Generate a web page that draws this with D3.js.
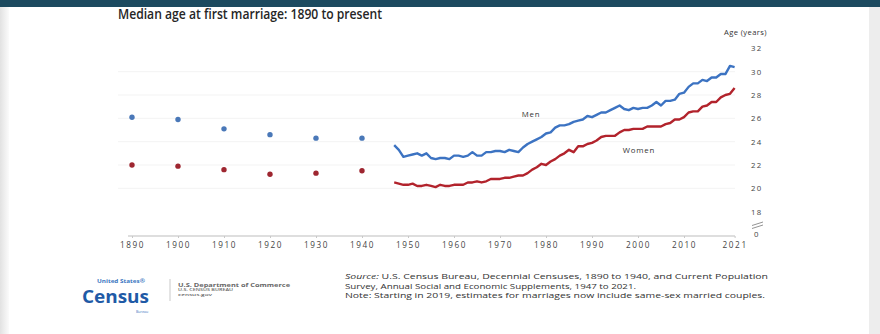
<!DOCTYPE html>
<html>
<head>
<meta charset="utf-8">
<script src="https://cdn.jsdelivr.net/npm/d3@7"></script>
<style>
  html, body { margin: 0; padding: 0; background: #fff; }
  svg { display: block; }
  text { font-family: "Open Sans", "DejaVu Sans", sans-serif; }
</style>
</head>
<body>
<svg id="chart" width="880" height="334"></svg>
<script>
// Decennial census estimates, 1890-1940
const censusYears = [1890, 1900, 1910, 1920, 1930, 1940];
const censusMen   = [26.1, 25.9, 25.1, 24.6, 24.3, 24.3];
const censusWomen = [22.0, 21.9, 21.6, 21.2, 21.3, 21.5];

// Current Population Survey annual estimates, 1947-2021
const cpsYears = d3.range(1947, 2022);
const cpsMen = [
  23.7, 23.3, 22.7, 22.8, 22.9, 23.0, 22.8, 23.0, 22.6, 22.5,
  22.6, 22.6, 22.5, 22.8, 22.8, 22.7, 22.8, 23.1, 22.8, 22.8,
  23.1, 23.1, 23.2, 23.2, 23.1, 23.3, 23.2, 23.1, 23.5, 23.8,
  24.0, 24.2, 24.4, 24.7, 24.8, 25.2, 25.4, 25.4, 25.5, 25.7,
  25.8, 25.9, 26.2, 26.1, 26.3, 26.5, 26.5, 26.7, 26.9, 27.1,
  26.8, 26.7, 26.9, 26.8, 26.9, 26.9, 27.1, 27.4, 27.1, 27.5,
  27.5, 27.6, 28.1, 28.2, 28.7, 29.0, 29.0, 29.3, 29.2, 29.5,
  29.5, 29.8, 29.8, 30.5, 30.4
];
const cpsWomen = [
  20.5, 20.4, 20.3, 20.3, 20.4, 20.2, 20.2, 20.3, 20.2, 20.1,
  20.3, 20.2, 20.2, 20.3, 20.3, 20.3, 20.5, 20.5, 20.6, 20.5,
  20.6, 20.8, 20.8, 20.8, 20.9, 20.9, 21.0, 21.1, 21.1, 21.3,
  21.6, 21.8, 22.1, 22.0, 22.3, 22.5, 22.8, 23.0, 23.3, 23.1,
  23.6, 23.6, 23.8, 23.9, 24.1, 24.4, 24.5, 24.5, 24.5, 24.8,
  25.0, 25.0, 25.1, 25.1, 25.1, 25.3, 25.3, 25.3, 25.3, 25.5,
  25.6, 25.9, 25.9, 26.1, 26.5, 26.6, 26.6, 27.0, 27.1, 27.4,
  27.4, 27.8, 28.0, 28.1, 28.6
];

const xTicks = [1890, 1900, 1910, 1920, 1930, 1940, 1950, 1960, 1970, 1980, 1990, 2000, 2010, 2021];
const yTicks = [18, 20, 22, 24, 26, 28, 30, 32];

const title = "Median age at first marriage: 1890 to present";
const sourceLines = [
  ["Source:", " U.S. Census Bureau, Decennial Censuses, 1890 to 1940, and Current Population"],
  ["", "Survey, Annual Social and Economic Supplements, 1947 to 2021."],
  ["", "Note: Starting in 2019, estimates for marriages now include same-sex married couples."]
];

const MEN = "#3c73c2";
const WOMEN = "#b2232c";

const svg = d3.select("#chart");

// page frame: dark header band and soft grey side margins
const edge = svg.append("defs").append("linearGradient").attr("id", "edgeL");
edge.append("stop").attr("offset", "0%").attr("stop-color", "#e2e2e2");
edge.append("stop").attr("offset", "100%").attr("stop-color", "#fbfbfb");
svg.append("rect").attr("x", 0).attr("y", 0).attr("width", 880).attr("height", 334).attr("fill", "#fff");
svg.append("rect").attr("x", 0).attr("y", 0).attr("width", 9).attr("height", 334).attr("fill", "url(#edgeL)");
svg.append("rect").attr("x", 869).attr("y", 0).attr("width", 11).attr("height", 334).attr("fill", "#ededed");
svg.append("rect").attr("x", 0).attr("y", 0).attr("width", 880).attr("height", 7).attr("fill", "#1c4a5f");

svg.append("text")
  .attr("x", 118).attr("y", 19)
  .attr("font-size", 14.5).attr("font-weight", 600).attr("fill", "#262626")
  .attr("textLength", 264).attr("lengthAdjust", "spacingAndGlyphs")
  .text(title);

const x = d3.scaleLinear().domain([1890, 2021]).range([132, 734.6]);
const y = d3.scaleLinear().domain([18, 32]).range([211.6, 48.4]);

// faint horizontal guides
svg.append("g").selectAll("line").data(yTicks.filter(v => v >= 20 && v <= 30)).join("line")
  .attr("x1", 118).attr("x2", 735)
  .attr("y1", d => y(d)).attr("y2", d => y(d))
  .attr("stroke", "#f3f3f3").attr("stroke-width", 1);

// x axis
const xAxis = svg.append("g").attr("transform", "translate(0,236)")
  .call(d3.axisBottom(x).tickValues(xTicks).tickFormat(d3.format("d")).tickSize(2).tickPadding(4));
xAxis.select(".domain").attr("stroke", "#bdbdbd").attr("d", "M128,0H735");
xAxis.selectAll(".tick line").attr("stroke", "#c8c8c8");
xAxis.selectAll(".tick text")
  .attr("font-family", "\"Open Sans\", sans-serif")
  .attr("font-size", 8.2).attr("fill", "#444").attr("letter-spacing", 1.6);

// y axis on the right, labels only
const yAxis = svg.append("g").attr("transform", "translate(751,0)")
  .call(d3.axisRight(y).tickValues(yTicks).tickSize(0).tickPadding(0));
yAxis.select(".domain").remove();
yAxis.selectAll(".tick text")
  .attr("font-family", "\"Open Sans\", sans-serif")
  .attr("font-size", 7.8).attr("fill", "#444").attr("letter-spacing", 1.2);

svg.append("text").attr("x", 754).attr("y", 237)
  .attr("font-size", 7.8).attr("fill", "#444").text("0");

// axis break marks
const brk = svg.append("g").attr("stroke", "#777").attr("stroke-width", 0.8);
brk.append("line").attr("x1", 752).attr("y1", 225.5).attr("x2", 763).attr("y2", 222);
brk.append("line").attr("x1", 752).attr("y1", 228.5).attr("x2", 763).attr("y2", 225);

svg.append("text").attr("x", 767).attr("y", 35).attr("text-anchor", "end")
  .attr("font-size", 7.6).attr("fill", "#333").attr("letter-spacing", 0.4)
  .text("Age (years)");

// decennial points
const dots = svg.append("g");
dots.selectAll(".men").data(censusYears.map((yr, i) => [yr, censusMen[i]])).join("circle")
  .attr("cx", d => x(d[0])).attr("cy", d => y(d[1])).attr("r", 2.7).attr("fill", "#4a78b8");
dots.selectAll(".women").data(censusYears.map((yr, i) => [yr, censusWomen[i]])).join("circle")
  .attr("cx", d => x(d[0])).attr("cy", d => y(d[1])).attr("r", 2.7).attr("fill", "#9e2630");

// annual lines
const line = d3.line().x(d => x(d[0])).y(d => y(d[1]));
svg.append("path").datum(cpsYears.map((yr, i) => [yr, cpsMen[i]]))
  .attr("d", line).attr("fill", "none").attr("stroke", MEN)
  .attr("stroke-width", 2.4).attr("stroke-linejoin", "round");
svg.append("path").datum(cpsYears.map((yr, i) => [yr, cpsWomen[i]]))
  .attr("d", line).attr("fill", "none").attr("stroke", WOMEN)
  .attr("stroke-width", 2.4).attr("stroke-linejoin", "round");

svg.append("text").attr("x", 531).attr("y", 117).attr("text-anchor", "middle")
  .attr("font-size", 7.8).attr("fill", "#333").attr("letter-spacing", 0.8).text("Men");
svg.append("text").attr("x", 639).attr("y", 153).attr("text-anchor", "middle")
  .attr("font-size", 7.8).attr("fill", "#333").attr("letter-spacing", 0.8).text("Women");

// source notes
const src = svg.append("g").attr("font-size", 7.2).attr("fill", "#333");
const widths = [423, 291, 420];
sourceLines.forEach((ln, i) => {
  const t = src.append("text").attr("x", 345).attr("y", 279 + i * 9.6)
    .attr("textLength", widths[i]).attr("lengthAdjust", "spacingAndGlyphs");
  if (ln[0]) t.append("tspan").attr("font-style", "italic").text(ln[0]);
  t.append("tspan").text(ln[1]);
});

// agency wordmark
const logo = svg.append("g");
logo.append("text").attr("x", 82).attr("y", 303)
  .attr("font-size", 18).attr("font-weight", 700).attr("fill", "#1f5aa6")
  .attr("textLength", 67).attr("lengthAdjust", "spacingAndGlyphs").text("Census");
logo.append("text").attr("x", 97).attr("y", 282.5)
  .attr("font-size", 5).attr("font-weight", 700).attr("fill", "#3d78c2")
  .attr("textLength", 48).attr("lengthAdjust", "spacingAndGlyphs").text("United States®");
logo.append("text").attr("x", 136).attr("y", 312.5)
  .attr("font-size", 3.6).attr("fill", "#3d78c2").text("Bureau");
logo.append("line").attr("x1", 170).attr("x2", 170).attr("y1", 279).attr("y2", 301)
  .attr("stroke", "#bbb").attr("stroke-width", 0.8);
const dept = ["U.S. Department of Commerce", "U.S. CENSUS BUREAU", "census.gov"];
const deptW = [112, 55, 34];
dept.forEach((s, i) => {
  logo.append("text").attr("x", 178).attr("y", 287 + i * 4.4)
    .attr("font-size", i === 0 ? 4.6 : 3.8).attr("font-weight", i === 0 ? 700 : 600)
    .attr("fill", "#666").attr("textLength", deptW[i]).attr("lengthAdjust", "spacingAndGlyphs")
    .text(s);
});
</script>
</body>
</html>
